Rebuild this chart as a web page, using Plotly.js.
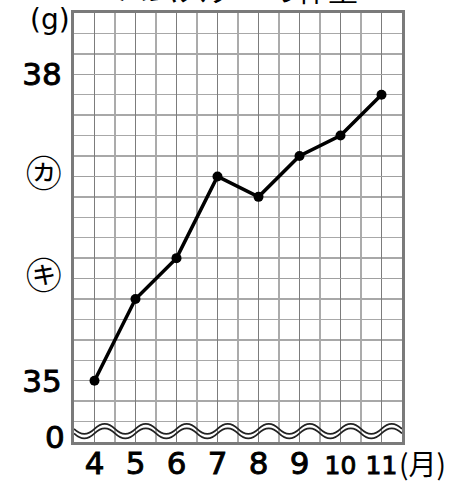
<!DOCTYPE html>
<html><head><meta charset="utf-8">
<script src="https://cdn.plot.ly/plotly-3.0.1.min.js"></script>
<style>html,body{margin:0;padding:0;background:#fff}#chart{width:470px;height:482px}</style>
</head><body><div id="chart"></div>
<script>
// data
const months = [4, 5, 6, 7, 8, 9, 10, 11];
const weights = [35.0, 35.8, 36.2, 37.0, 36.8, 37.2, 37.4, 37.8];
const xTickVals = [4, 5, 6, 7, 8, 9, 10, 11];
const xTickText = ["4", "5", "6", "7", "8", "9", "10", "11"];
const yTickVals = [35, 36, 37, 38];
const yTickText = ["35", "㋖", "㋕", "38"];
const titleText = "ハムスターの体重";
const unitY = "(g)";
const unitX = "(月)";
const zeroLabel = "0";

// text styling helpers (heavier strokes like the reference)
const heavy = t => '<span style="stroke:#000;stroke-width:0.9px">' + t + '</span>';
const xLabel = t => t.length > 1 ? '<span style="font-size:25px;stroke:#000;stroke-width:0.9px">' + t + '</span>' : heavy(t);
const yLabel = t => /^[0-9]+$/.test(t) ? heavy(t) : '<span style="font-family:\'Noto Sans CJK JP\';font-size:36px">' + t + '</span>';

// decorative break mark (two wavy lines) in the bottom cell
function wavePath(center, amp, x0, x1) {
  let d = "M" + x0 + "," + center;
  let first = true;
  for (let x = x0; x < x1 - 1e-9; x += 0.5) {
    if (first) { d += " Q" + (x + 0.25) + "," + (center - 2 * amp) + " " + (x + 0.5) + "," + center; first = false; }
    else d += " T" + (x + 0.5) + "," + center;
  }
  return d;
}

const trace = {
  x: months, y: weights, type: 'scatter', mode: 'lines+markers',
  line: {color: '#000', width: 3.5},
  marker: {color: '#000', size: 10},
  hoverinfo: 'skip'
};

const layout = {
  width: 470, height: 482,
  margin: {l: 74, r: 68, t: 13, b: 40, pad: 0},
  paper_bgcolor: '#fff', plot_bgcolor: '#fff',
  showlegend: false,
  font: {family: 'DejaVu Sans', color: '#000'},
  xaxis: {
    range: [3.5, 11.5], tickmode: 'array', tickvals: xTickVals, ticktext: xTickText.map(xLabel),
    tickangle: 0,
    showgrid: true, gridcolor: '#7c7c7c', gridwidth: 1.5,
    minor: {dtick: 0.5, tick0: 3.5, showgrid: true, gridcolor: '#ababab', gridwidth: 1.5},
    showline: true, mirror: true, linecolor: '#7a7a7a', linewidth: 3,
    zeroline: false, ticks: '', ticklabelstandoff: -8,
    tickfont: {family: 'DejaVu Sans', size: 31, color: '#000'},
    fixedrange: true
  },
  yaxis: {
    range: [34.4, 38.6], tickmode: 'array', tickvals: yTickVals, ticktext: yTickText.map(yLabel),
    showgrid: true, gridcolor: '#a0a0a0', gridwidth: 1.5,
    minor: {dtick: 0.2, tick0: 34.4, showgrid: true, gridcolor: '#a8a8a8', gridwidth: 1.5},
    showline: true, mirror: true, linecolor: '#7a7a7a', linewidth: 3,
    zeroline: false, ticks: '', ticklabelstandoff: 3,
    tickfont: {family: 'DejaVu Sans', size: 31, color: '#000'},
    fixedrange: true
  },
  shapes: [
    {type: 'path', xref: 'x', yref: 'y', path: wavePath(34.528, 0.049, 3.5, 11.5), line: {color: '#222', width: 1.7}, layer: 'above'},
    {type: 'path', xref: 'x', yref: 'y', path: wavePath(34.484, 0.049, 3.5, 11.5), line: {color: '#222', width: 1.7}, layer: 'above'}
  ],
  annotations: [
    {text: titleText, xref: 'paper', yref: 'paper', x: 0.5, y: 1.058, xanchor: 'center', yanchor: 'middle', showarrow: false,
     font: {family: 'Noto Sans CJK JP', size: 30, color: '#000'}},
    {text: unitY, xref: 'paper', yref: 'paper', x: -0.072, y: 0.985, xanchor: 'center', yanchor: 'middle', showarrow: false,
     font: {family: 'DejaVu Sans', size: 28, color: '#000'}},
    {text: unitX, xref: 'paper', yref: 'paper', x: 0.985, y: -0.05, xanchor: 'left', yanchor: 'middle', showarrow: false,
     font: {family: 'Noto Sans CJK JP', size: 28, color: '#000'}},
    {text: heavy(zeroLabel), xref: 'paper', yref: 'paper', x: -0.058, y: 0.012, xanchor: 'center', yanchor: 'middle', showarrow: false,
     font: {family: 'DejaVu Sans', size: 31, color: '#000'}}
  ]
};

Plotly.newPlot('chart', [trace], layout, {staticPlot: true, displayModeBar: false});
</script></body></html>
